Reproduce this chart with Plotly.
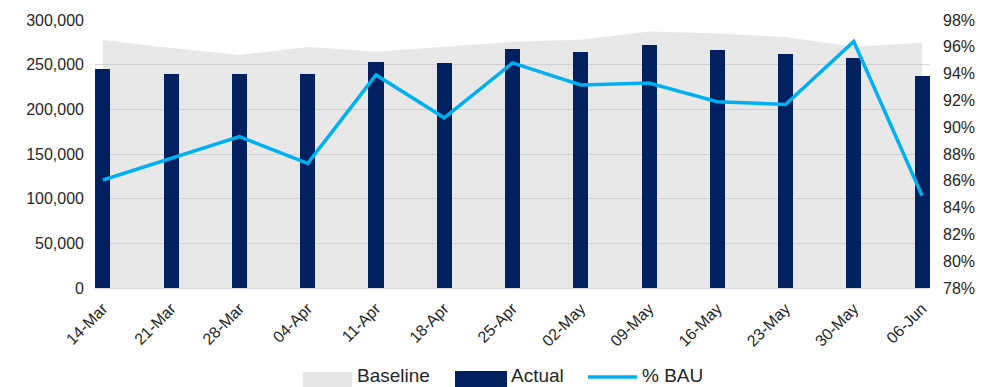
import plotly.graph_objects as go

weeks = ["14-Mar", "21-Mar", "28-Mar", "04-Apr", "11-Apr", "18-Apr", "25-Apr",
         "02-May", "09-May", "16-May", "23-May", "30-May", "06-Jun"]
baseline = [277600, 268700, 260800, 269800, 264500, 270000, 275700,
            278000, 287000, 285000, 281000, 270000, 274600]
actual = [245000, 239500, 239500, 239500, 253000, 251500, 268000,
          264500, 272000, 266000, 262500, 258000, 237000]
pct_bau = [0.8606, 0.877, 0.893, 0.873, 0.939, 0.907, 0.948,
           0.9315, 0.933, 0.919, 0.917, 0.964, 0.849]

FONT = "Liberation Sans, Arial, sans-serif"
TXT = "#262626"
GRID = "#d9d9d9"

fig = go.Figure()
# Baseline area on the base y axis (drawn first, below everything)
fig.add_trace(go.Scatter(x=weeks, y=baseline, mode="lines", line=dict(width=0, color="rgba(0,0,0,0)"),
                         fill="tozeroy", fillcolor="rgba(190,190,190,0.35)", name="Baseline",
                         showlegend=False, hoverinfo="skip", yaxis="y"))
# Actual bars on an overlaying axis with the same scale
fig.add_trace(go.Bar(x=weeks, y=actual, width=0.22, marker=dict(color="#002060", line=dict(width=0)),
                     name="Actual", showlegend=False, yaxis="y2"))
# % BAU line on the right axis
fig.add_trace(go.Scatter(x=weeks, y=pct_bau, mode="lines", line=dict(color="#00B0F0", width=3.5),
                         name="% BAU", yaxis="y3", showlegend=False))

def py(ypx):
    return (288 - ypx) / 268.0

def px(xpx):
    return (xpx - 95) / 835.0

shapes = [
    dict(type="rect", xref="paper", yref="paper", x0=px(303), x1=px(352), y0=py(392), y1=py(372),
         fillcolor="#e6e6e6", line=dict(width=0)),
    dict(type="rect", xref="paper", yref="paper", x0=px(455), x1=px(507), y0=py(392), y1=py(371),
         fillcolor="#002060", line=dict(width=0)),
    dict(type="line", xref="paper", yref="paper", x0=px(588), x1=px(637), y0=py(377), y1=py(377),
         line=dict(color="#00B0F0", width=3.5)),
]
annotations = []
for label, xl in [("Baseline", 355), ("Actual", 509), ("% BAU", 640)]:
    annotations.append(dict(text=label, xref="paper", yref="paper", x=px(xl), y=py(375),
                            xanchor="left", yanchor="middle", showarrow=False,
                            font=dict(family=FONT, size=19, color=TXT)))

fig.update_layout(
    width=987, height=387,
    margin=dict(l=95, r=57, t=20, b=99),
    paper_bgcolor="white", plot_bgcolor="white",
    showlegend=False,
    bargap=0,
    font=dict(family=FONT, size=16, color=TXT),
    xaxis=dict(type="category", range=[-0.117, 12.117], tickangle=-45, showgrid=False,
               showline=True, linecolor=GRID, linewidth=1, layer="above traces",
               ticks="", tickfont=dict(size=16, color=TXT), ticklabelstandoff=4),
    yaxis=dict(range=[0, 300000], dtick=50000, tickformat=",d", showgrid=True, gridcolor=GRID,
               gridwidth=1, zeroline=False, ticks="", tickfont=dict(size=16, color=TXT),
               ticklabelstandoff=10),
    yaxis2=dict(range=[0, 300000], overlaying="y", side="left", showgrid=False, zeroline=False,
                showticklabels=False, ticks=""),
    yaxis3=dict(range=[0.78, 0.98], dtick=0.02, tickformat=".0%", overlaying="y", side="right",
                showgrid=False, zeroline=False, ticks="", tickfont=dict(size=16, color=TXT),
                ticklabelstandoff=12),
    shapes=shapes,
    annotations=annotations,
)

fig.write_html("out.html")
